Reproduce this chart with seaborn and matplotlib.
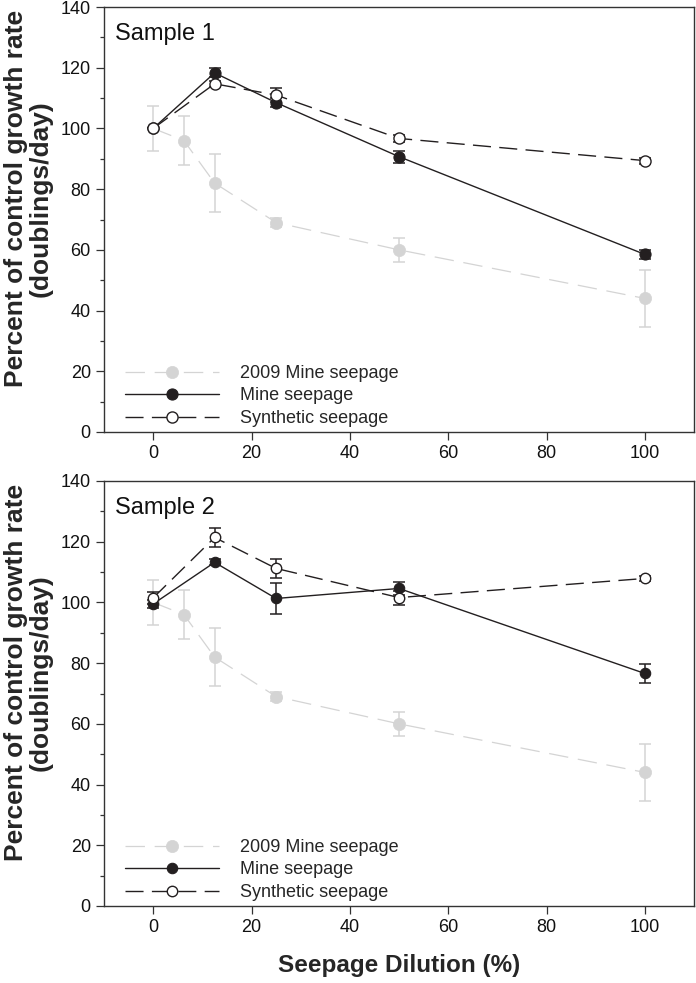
import numpy as np
import pandas as pd
import matplotlib
matplotlib.use("Agg")
import matplotlib.pyplot as plt
import seaborn as sns

# x positions (seepage dilution, %)
x_2009 = [0, 6.25, 12.5, 25, 50, 100]
x_sample = [0, 12.5, 25, 50, 100]

# 2009 mine seepage (same reference series in both panels)
y_2009 = [100, 96, 82, 69, 60, 44]
e_2009 = [7.5, 8, 9.5, 1.5, 4, 9.3]

# Sample 1
s1_mine = [100, 118.3, 108.5, 90.7, 58.5]
s1_mine_err = [0, 1.5, 1.5, 2, 1.5]
s1_syn = [100, 114.7, 111, 96.7, 89.4]
s1_syn_err = [0, 1, 2.2, 1.2, 1]

# Sample 2
s2_mine = [99.5, 113.2, 101.3, 104.6, 76.6]
s2_mine_err = [1.2, 1, 5, 2, 3]
s2_syn = [101.5, 121.4, 111.2, 101.6, 107.9]
s2_syn_err = [2, 3, 3, 2.3, 0.8]

panels = [("Sample 1", s1_mine, s1_mine_err, s1_syn, s1_syn_err),
          ("Sample 2", s2_mine, s2_mine_err, s2_syn, s2_syn_err)]

sns.set_style("ticks")
plt.rcParams["font.family"] = ["Liberation Sans", "DejaVu Sans"]
plt.rcParams["lines.scale_dashes"] = False

GRAY = "#d4d4d4"
BLACK = "#231f20"
SPINE = "#333333"

fig = plt.figure(figsize=(6.96, 9.83), dpi=100)
W, H = 696, 983
ax1 = fig.add_axes([104 / W, (H - 432) / H, 590 / W, 425 / H])
ax2 = fig.add_axes([104 / W, (H - 906) / H, 590 / W, 425 / H])

for ax, (title, mine, mine_err, syn, syn_err) in zip([ax1, ax2], panels):
    d09 = pd.DataFrame({"x": x_2009, "y": y_2009})
    dm = pd.DataFrame({"x": x_sample, "y": mine})
    ds = pd.DataFrame({"x": x_sample, "y": syn})
    msize = 8 if title == "Sample 1" else 7.5

    # 2009 mine seepage
    ax.errorbar(x_2009, y_2009, yerr=e_2009, fmt="none", ecolor=GRAY,
                elinewidth=1.1, capsize=4, capthick=1.1, zorder=1)
    sns.lineplot(data=d09, x="x", y="y", ax=ax, errorbar=None,
                 color=GRAY, linewidth=0.9, linestyle=(0, (14, 7)),
                 marker="o", markersize=8.8, markerfacecolor=GRAY,
                 markeredgecolor=GRAY, markeredgewidth=0.5,
                 label="2009 Mine seepage", zorder=2)

    # mine seepage
    ax.errorbar(x_sample, mine, yerr=mine_err, fmt="none", ecolor=BLACK,
                elinewidth=1.1, capsize=4, capthick=1.1, zorder=3)
    sns.lineplot(data=dm, x="x", y="y", ax=ax, errorbar=None,
                 color=BLACK, linewidth=1.0, marker="o", markersize=msize,
                 markerfacecolor=BLACK, markeredgecolor=BLACK,
                 markeredgewidth=0.8, label="Mine seepage", zorder=4)

    # synthetic seepage
    ax.errorbar(x_sample, syn, yerr=syn_err, fmt="none", ecolor=BLACK,
                elinewidth=1.1, capsize=4, capthick=1.1, zorder=5)
    sns.lineplot(data=ds, x="x", y="y", ax=ax, errorbar=None,
                 color=BLACK, linewidth=1.0, linestyle=(0, (13, 6)),
                 marker="o", markersize=msize,
                 markerfacecolor="white", markeredgecolor=BLACK,
                 markeredgewidth=1.0, label="Synthetic seepage", zorder=6)

    ax.set_xlim(-10, 110)
    ax.set_ylim(0, 140)
    ax.set_xticks([0, 20, 40, 60, 80, 100])
    ax.set_yticks(np.arange(0, 141, 20))
    ax.set_yticks(np.arange(10, 140, 20), minor=True)
    ax.tick_params(axis="both", which="major", direction="out", length=5.5,
                   width=0.9, color=SPINE, labelsize=13, pad=4,
                   labelcolor="#111111")
    ax.tick_params(axis="y", which="minor", direction="out", length=3.2,
                   width=0.9, color=SPINE)
    for sp in ax.spines.values():
        sp.set_visible(True)
        sp.set_color(SPINE)
        sp.set_linewidth(1.0)

    ax.text(0.019, 0.922, title, transform=ax.transAxes, fontsize=17,
            va="baseline", ha="left", color="#111111")

    ax.set_ylabel("Percent of control growth rate\n(doublings/day)",
                  fontsize=19, fontweight="bold", linespacing=1.0,
                  va="center", ha="center")
    ax.yaxis.set_label_coords(-0.128, 0.55)
    ax.set_xlabel("")

    handles, labels = ax.get_legend_handles_labels()
    ax.legend(handles, labels, loc="lower left", bbox_to_anchor=(0.035, 0.012),
              frameon=False, fontsize=13, handlelength=5.2,
              handletextpad=1.2, labelspacing=0.3, borderpad=0,
              borderaxespad=0)

ax2.set_xlabel("Seepage Dilution (%)", fontsize=17.5, fontweight="bold",
               labelpad=13)

fig.savefig("out.png", dpi=100)
